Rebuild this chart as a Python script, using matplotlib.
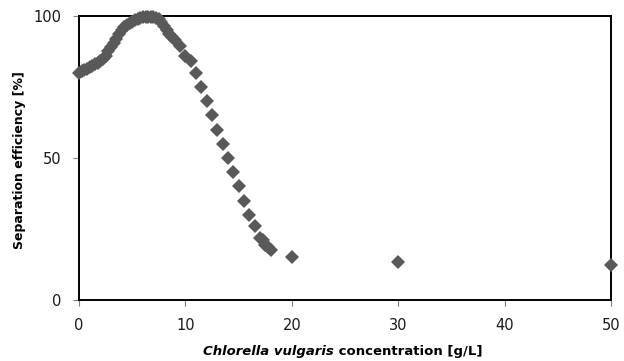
import matplotlib
matplotlib.use("Agg")
import matplotlib.pyplot as plt

concentration = [0, 0.25, 0.5, 0.75, 1, 1.25, 1.5, 1.75, 2, 2.25, 2.5, 2.75, 3, 3.25,
                 3.5, 3.75, 4, 4.25, 4.5, 4.75, 5, 5.25, 5.5, 5.75, 6, 6.25, 6.5, 6.75,
                 7, 7.25, 7.5, 7.75, 8, 8.25, 8.5, 8.75, 9, 9.5, 10, 10.5, 11, 11.5,
                 12, 12.5, 13, 13.5, 14, 14.5, 15, 15.5, 16, 16.5, 17, 17.25, 17.5,
                 17.75, 18, 20, 30, 50]
efficiency = [80, 80.5, 81, 81.5, 82, 82.5, 83, 83.5, 84, 85, 86, 87.5, 89, 90.5,
              92, 93.5, 95, 96, 97, 97.5, 98, 98.5, 99, 99.3, 99.5, 99.5, 99.5, 99.5,
              99.5, 99.3, 99, 98, 96.5, 95, 93.5, 92.5, 91.5, 89.5, 86, 84, 80, 75,
              70, 65, 60, 55, 50, 45, 40, 35, 30, 26, 22, 21, 19.5,
              18.5, 17.5, 15, 13.3, 12.3]
xticks = [0, 10, 20, 30, 40, 50]
yticks = [0, 50, 100]

fig = plt.figure(figsize=(6.24, 3.61), dpi=100)
ax = fig.add_axes([79/624, 1-300/361, (611-79)/624, (300-16)/361])
ax.plot(concentration, efficiency, linestyle='none', marker='D', markersize=7.5,
        color='#595959', markeredgewidth=0, clip_on=False, zorder=3)
ax.set_xlim(0, 50)
ax.set_ylim(0, 100)
ax.set_xticks(xticks)
ax.set_yticks(yticks)
for s in ax.spines.values():
    s.set_linewidth(1.4)
    s.set_color('black')
ax.tick_params(direction='out', length=4, width=0.8, labelsize=10.5,
               colors='#7f7f7f', labelcolor='#1a1a1a')
ax.tick_params(axis='x', pad=9)
ax.tick_params(axis='y', pad=9)

fig.canvas.draw()
r = fig.canvas.get_renderer()
t1 = fig.text(0, 0, 'Chlorella vulgaris', fontsize=9.5, fontweight='bold', style='italic',
              va='center')
t2 = fig.text(0, 0, ' concentration [g/L]', fontsize=9.5, fontweight='bold', va='center')
w1 = t1.get_window_extent(r).width
w2 = t2.get_window_extent(r).width
cx, cy = 343, 361 - 352
x0 = cx - (w1 + w2) / 2
t1.set_position((x0 / 624, cy / 361))
t2.set_position(((x0 + w1) / 624, cy / 361))
fig.text(20/624, 1-160/361, 'Separation efficiency [%]', rotation=90, fontsize=9,
         fontweight='bold', ha='center', va='center')

fig.savefig('out.png', dpi=100)
